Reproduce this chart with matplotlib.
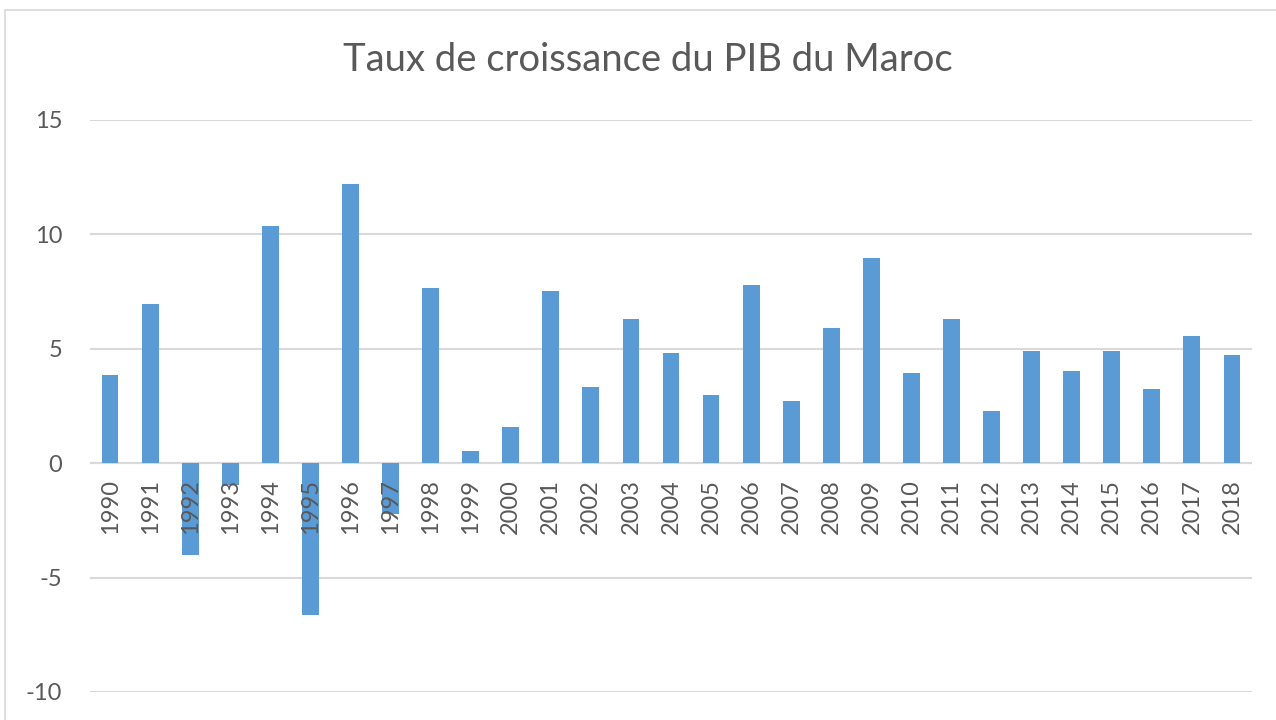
import matplotlib
matplotlib.use("Agg")
import matplotlib.pyplot as plt
from matplotlib.patches import Rectangle

years = [str(y) for y in range(1990, 2019)]
growth = [3.87, 6.95, -4.03, -0.96, 10.37, -6.62, 12.19, -2.2, 7.64, 0.52,
          1.57, 7.52, 3.31, 6.30, 4.80, 2.97, 7.79, 2.72, 5.91, 8.96,
          3.95, 6.30, 2.26, 4.92, 4.02, 4.92, 3.24, 5.57, 4.73]
yticks = [-10, -5, 0, 5, 10, 15]
title = "Taux de croissance du PIB du Maroc"

plt.rcParams['font.family'] = ['Lato', 'DejaVu Sans']

W, H = 1276, 720
fig = plt.figure(figsize=(W / 100, H / 100), dpi=100)
fig.patch.set_facecolor('white')

# chart border (top and left visible)
fig.patches.append(Rectangle((5 / W, -0.2), 1.2, 1.2 - 10 / H,
                             transform=fig.transFigure, fill=False,
                             edgecolor='#D9D9D9', linewidth=1.2))

ax = fig.add_axes([90 / W, 1 - 692 / H, (1252 - 90) / W, (692 - 120) / H])
x = list(range(len(years)))
ax.bar(x, growth, width=0.42, color='#5B9BD5', zorder=3)
ax.set_xlim(-0.5, len(years) - 0.5)
ax.set_ylim(-10, 15)
ax.set_yticks(yticks)
ax.set_yticklabels([str(v) for v in yticks], fontsize=17, color='#595959')
ax.tick_params(axis='y', length=0, pad=20)
ax.grid(axis='y', color='#D9D9D9', linewidth=1.5, zorder=0)
for s in ax.spines.values():
    s.set_visible(False)
ax.axhline(0, color='#D9D9D9', linewidth=1.5, zorder=2)

ax.set_xticks([])
for xi, lab in zip(x, years):
    ax.text(xi, -0.7, lab, rotation=90, ha='center', va='top',
            fontsize=17, color='#595959', zorder=4)

fig.text(0.5 * (345 + 950) / W, 1 - 60 / H, title, ha='center', va='center',
         fontsize=27.5, color='#595959')

fig.savefig('out.png', dpi=100, facecolor='white')
